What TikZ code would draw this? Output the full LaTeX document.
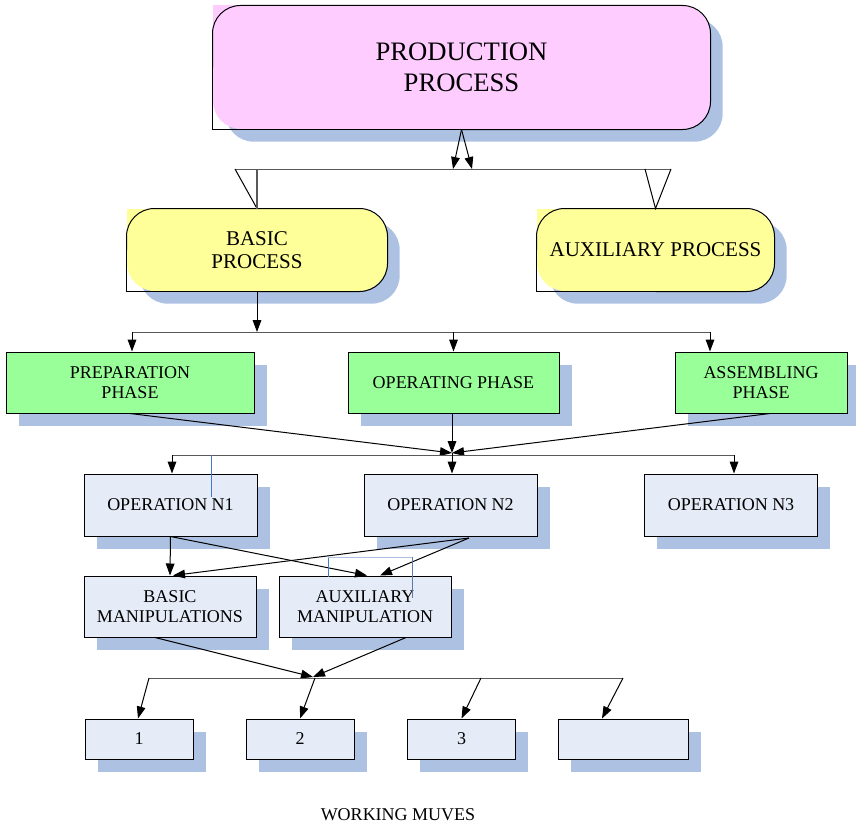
\documentclass[tikz,border=0pt]{standalone}
\usepackage{fontspec}
\setmainfont{Liberation Serif}
\usetikzlibrary{arrows.meta, shadows}

\definecolor{pinkfill}{RGB}{255,204,255}
\definecolor{yellowfill}{RGB}{255,255,153}
\definecolor{greenfill}{RGB}{153,255,153}
\definecolor{opfill}{RGB}{230,236,247}
\definecolor{shadowblue}{RGB}{173,194,226}
\definecolor{bluetrace}{RGB}{70,120,205}

\begin{document}
\begin{tikzpicture}[x = 0.75pt, y = -0.75pt, line width = 0.75pt,
  every node/.style = {inner sep = 0pt, align = center, font = \fontsize{13.5}{15}\selectfont},
  shade box/.style = {general shadow = {fill = shadowblue, shadow xshift = 9.5pt, shadow yshift = -9.5pt}},
  round box/.style = {shade box, rounded corners = 21pt},
  flat box/.style = {shade box, draw = black},
  arr/.style = {-{Triangle[length = 9pt, width = 6.5pt]}},
  bus/.style = {draw = black!65}]

  \useasboundingbox (0, 0) rectangle (856, 824);

  \node [round box, fill = pinkfill, minimum width = 372.75pt, minimum height = 92.25pt, font = \fontsize{20}{23.25}\selectfont] (production) at (461.5, 67.5) {PRODUCTION\\PROCESS};
  \fill [pinkfill] (production.north west) rectangle ++(28, 28);
  \draw [rounded corners = 21pt] (production.west) |- (production.north east) |- (production.south);
  \draw (production.south) -| (production.west);

  \node [round box, fill = yellowfill, minimum width = 195pt, minimum height = 61.5pt, font = \fontsize{15.75}{17.25}\selectfont] (basic) at (257, 250) {BASIC\\PROCESS};
  \fill [yellowfill] (basic.north west) rectangle ++(28, 28);
  \draw [rounded corners = 21pt] (basic.west) |- (basic.north east) |- (basic.south);
  \draw (basic.south) -| (basic.west);

  \node [round box, fill = yellowfill, minimum width = 177.75pt, minimum height = 61.5pt, font = \fontsize{15.75}{17.25}\selectfont] (auxiliary) at (655.5, 250) {AUXILIARY PROCESS};
  \fill [yellowfill] (auxiliary.north west) rectangle ++(28, 28);
  \draw [rounded corners = 21pt] (auxiliary.west) |- (auxiliary.north east) |- (auxiliary.south);
  \draw (auxiliary.south) -| (auxiliary.west);

  \node [flat box, fill = greenfill, minimum width = 186pt, minimum height = 45.75pt] (preparation) at (130, 382.5) {PREPARATION\\PHASE};
  \node [flat box, fill = greenfill, minimum width = 158.25pt, minimum height = 45.75pt] (operating) at (453.5, 382.5) {OPERATING PHASE};
  \node [flat box, fill = greenfill, minimum width = 129pt, minimum height = 45.75pt] (assembling) at (761, 382.5) {ASSEMBLING\\PHASE};

  \node [flat box, fill = opfill, minimum width = 129.75pt, minimum height = 46.5pt] (op1) at (170.5, 505) {OPERATION N1};
  \node [flat box, fill = opfill, minimum width = 129.75pt, minimum height = 46.5pt] (op2) at (450.5, 505) {OPERATION N2};
  \node [flat box, fill = opfill, minimum width = 129.75pt, minimum height = 46.5pt] (op3) at (731, 505) {OPERATION N3};

  \node [flat box, fill = opfill, minimum width = 129pt, minimum height = 45.75pt] (basicm) at (170, 606.5) {BASIC\\MANIPULATIONS};
  \node [flat box, fill = opfill, minimum width = 129pt, minimum height = 45.75pt] (auxm) at (365, 606.5) {AUXILIARY\\MANIPULATION};

  \node [flat box, fill = opfill, minimum width = 81pt, minimum height = 30pt] (move1) at (139, 739) {1};
  \node [flat box, fill = opfill, minimum width = 81pt, minimum height = 30pt] (move2) at (300, 739) {2};
  \node [flat box, fill = opfill, minimum width = 81pt, minimum height = 30pt] (move3) at (461.5, 739) {3};
  \node [flat box, fill = opfill, minimum width = 97.5pt, minimum height = 30pt] (move4) at (623, 739) {};

  \node (moves) at (398, 815) {WORKING MUVES};

  \coordinate (tl) at (235, 169);
  \coordinate (tr) at (671, 169);
  \coordinate (tm) at (645, 169);
  \coordinate (ta) at (453, 169);
  \coordinate (tb) at (472, 169);

  \draw [arr] (production.south) -- (ta);
  \draw [arr] (production.south) -- (tb);
  \draw [bus] (tl) -- (tr);
  \draw (tl) -- (basic.north);
  \draw [bus, line width = 1.2pt] (basic.north |- tl) -- (basic.north);
  \draw (tm) -- (auxiliary.north) -- (tr);

  \coordinate (pl) at (132, 332);
  \coordinate (pr) at (710, 332);

  \draw [arr] (basic.south) -- (basic.south |- pl);
  \draw [bus] (pl) -- (pr);
  \draw [arr] (pl) -- (pl |- preparation.north);
  \draw [arr] (operating.north |- pl) -- (operating.north);
  \draw [arr] (pr) -- (pr |- assembling.north);

  \coordinate (meet) at (452, 453);
  \coordinate (ol) at (172, 455);
  \coordinate (or) at (734, 455);

  \draw [arr] (preparation.south) -- (meet);
  \draw [arr] (meet |- operating.south) -- (meet);
  \draw [arr] ([xshift = 6.75pt] assembling.south) -- (meet);
  \draw [bus] (ol) -- (or);
  \draw [arr] (ol) -- (ol |- op1.north);
  \draw [arr] (meet) -- (meet |- op2.north);
  \draw [arr] (or) -- (or |- op3.north);
  \draw [bluetrace, line width = 0.6pt] (211, 455) -- (211, 497);

  \coordinate (n2) at (469, 538);

  \draw [arr] (op1.south) -- (basicm.north);
  \draw [arr] (op1.south) -- ([xshift = 1.5pt] auxm.north);
  \draw [arr] (n2) -- ([xshift = 2.25pt] basicm.north);
  \draw [arr] (n2) -- ([xshift = 11.25pt] auxm.north);
  \draw [bluetrace, line width = 0.6pt] (328, 577) -- (328, 557);
  \draw [shadowblue, line width = 0.6pt] (328, 557) -- (412, 557);
  \draw [bluetrace!60!gray, line width = 0.6pt] (412, 557) -- (412, 598);

  \coordinate (wm) at (313, 677);
  \coordinate (wl) at (149, 678);
  \coordinate (w2) at (315, 678);
  \coordinate (w3) at (481, 678);
  \coordinate (wr) at (623, 678);

  \draw [arr] ([xshift = -11.25pt] basicm.south) -- (wm);
  \draw [arr] ([xshift = 30.75pt] auxm.south) -- (wm);
  \draw [bus] (wl) -- (wr);
  \draw [arr] (wl) -- ([xshift = -0.75pt] move1.north);
  \draw [arr] (w2) -- (move2.north);
  \draw [arr] (w3) -- (move3.north);
  \draw [arr] (wr) -- ([xshift = -15.75pt] move4.north);

\end{tikzpicture}
\end{document}
